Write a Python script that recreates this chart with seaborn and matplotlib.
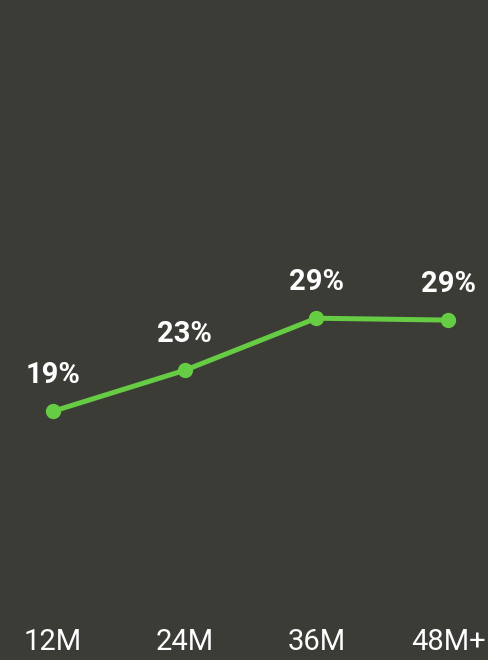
import matplotlib
matplotlib.use("Agg")
import matplotlib.pyplot as plt
import seaborn as sns
import pandas as pd

# Tenure buckets and share per bucket (%)
periods = ["12M", "24M", "36M", "48M+"]
share = [19.0, 23.4, 29.0, 28.8]

BG = "#3c3c37"
GREEN = "#66cc44"

sns.set_theme(style="dark")
plt.rcParams["font.family"] = ["Roboto", "DejaVu Sans"]

df = pd.DataFrame({"period": periods, "share": share, "pos": range(len(periods))})

fig = plt.figure(figsize=(4.89, 6.60), dpi=100, facecolor=BG)
ax = fig.add_axes([0, 0.109, 1, 0.891])
ax.set_facecolor(BG)

sns.lineplot(data=df, x="pos", y="share", ax=ax, color=GREEN, linewidth=3.6,
             marker="o", markersize=11, markeredgewidth=0, markeredgecolor=GREEN)

for x, v in zip(df["pos"], df["share"]):
    ax.annotate(f"{v:.0f}%", (x, v), xytext=(0, 16), textcoords="offset points",
                ha="center", va="bottom", color="white", fontsize=21,
                fontweight="semibold")

ax.set_xlim(-0.4025, 3.311)
ax.set_ylim(0, 63.2)
ax.set_xticks(list(df["pos"]))
ax.set_xticklabels(periods, color="white", fontsize=21)
ax.tick_params(axis="x", length=0, pad=29)
ax.set_yticks([])
ax.set_xlabel("")
ax.set_ylabel("")
ax.grid(False)
for s in ax.spines.values():
    s.set_visible(False)

fig.savefig("out.png", dpi=100, facecolor=BG)
